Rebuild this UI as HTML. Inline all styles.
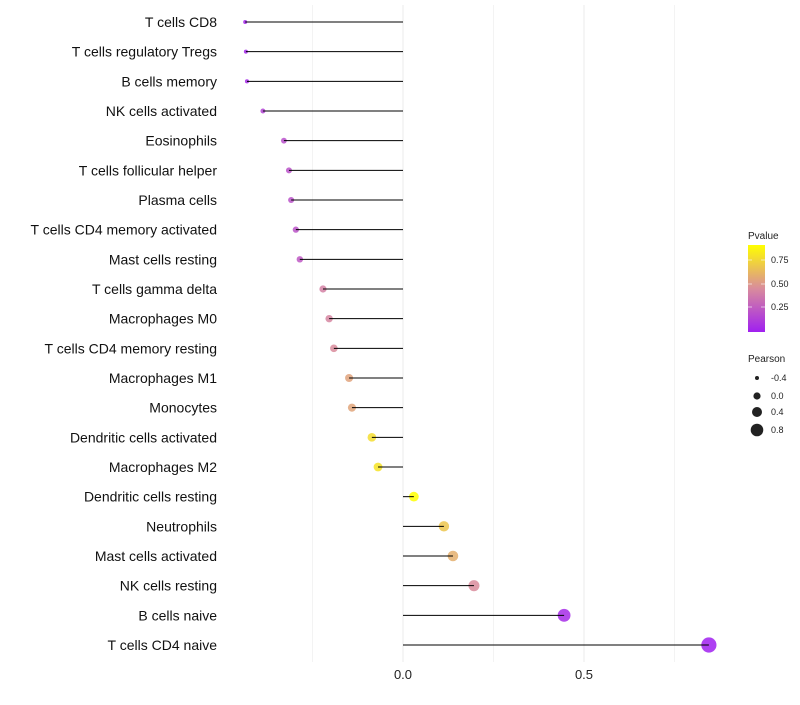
<!DOCTYPE html>
<html><head><meta charset="utf-8"><style>
body{margin:0;background:#fff;font-family:"Liberation Sans",sans-serif}
</style></head><body>
<svg id="chart" width="800" height="700" xmlns="http://www.w3.org/2000/svg">
<defs><linearGradient id="pg" x1="0" y1="1" x2="0" y2="0">
<stop offset="0" stop-color="#a020f0"/><stop offset="0.5" stop-color="#d98c9c"/><stop offset="1" stop-color="#ffff00"/>
</linearGradient></defs>
<g id="grid"></g><g id="dots"></g><g id="marks"></g><g id="labels"></g>
<g font-size="9" fill="#222">
<text x="748" y="239" font-size="10">Pvalue</text>
<rect x="748" y="245" width="17" height="87" fill="url(#pg)"/>
<line x1="748" x2="752" y1="260" y2="260" stroke="#fff" opacity="0.6"/><line x1="761" x2="765" y1="260" y2="260" stroke="#fff" opacity="0.6"/>
<line x1="748" x2="752" y1="284" y2="284" stroke="#fff" opacity="0.6"/><line x1="761" x2="765" y1="284" y2="284" stroke="#fff" opacity="0.6"/>
<line x1="748" x2="752" y1="307" y2="307" stroke="#fff" opacity="0.6"/><line x1="761" x2="765" y1="307" y2="307" stroke="#fff" opacity="0.6"/>
<text x="771" y="263">0.75</text><text x="771" y="287">0.50</text><text x="771" y="310">0.25</text>
</g>
<g font-size="9" fill="#222">
<text x="748" y="362" font-size="10">Pearson</text>
<circle cx="757" cy="378" r="2"/><text x="771" y="381">-0.4</text>
<circle cx="757" cy="396" r="3.6"/><text x="771" y="399">0.0</text>
<circle cx="757" cy="412" r="5"/><text x="771" y="415">0.4</text>
<circle cx="757" cy="430" r="6.3"/><text x="771" y="433">0.8</text>
</g>
</svg>
<script>
const categories=["T cells CD8","T cells regulatory  Tregs ","B cells memory","NK cells activated","Eosinophils","T cells follicular helper","Plasma cells","T cells CD4 memory activated","Mast cells resting","T cells gamma delta","Macrophages M0","T cells CD4 memory resting","Macrophages M1","Monocytes","Dendritic cells activated","Macrophages M2","Dendritic cells resting","Neutrophils","Mast cells activated","NK cells resting","B cells naive","T cells CD4 naive"];
const pearson=[-0.436,-0.434,-0.431,-0.387,-0.329,-0.315,-0.309,-0.296,-0.285,-0.221,-0.204,-0.191,-0.149,-0.141,-0.086,-0.069,0.030,0.113,0.138,0.196,0.445,0.845];
const pvalues=[0.03,0.03,0.04,0.16,0.22,0.23,0.23,0.24,0.26,0.45,0.47,0.5,0.6,0.61,0.85,0.88,1.0,0.75,0.65,0.5,0.05,0.002];
const xTicks=[0,0.5];
const xGrid=[-0.25,0,0.25,0.5,0.75];
const NS="http://www.w3.org/2000/svg";
const xs=v=>403+v*362;
const ys=i=>22+i*(623/21);
const rs=v=>Math.sqrt(4+42*(v+0.436));
function col(p){const a=[160,32,240],m=[217,140,156],b=[255,255,0];let c0,c1,t;if(p<0.5){c0=a;c1=m;t=p/0.5}else{c0=m;c1=b;t=(p-0.5)/0.5}return "rgb("+c0.map((c,k)=>Math.round(c+(c1[k]-c)*t)).join(",")+")";}
function mk(tag,at,parent){const e=document.createElementNS(NS,tag);for(const k in at)e.setAttribute(k,at[k]);document.getElementById(parent).appendChild(e);return e;}
xGrid.forEach(v=>{const l=mk("line",{x1:xs(v),x2:xs(v),y1:5,y2:662,stroke:"#ebebeb","stroke-width":v%0.5===0?1:0.6},"grid");

});
xTicks.forEach(v=>{const t=mk("text",{x:xs(v),y:679,"text-anchor":"middle","font-size":"13",fill:"#222"},"labels");t.textContent=v.toFixed(1);

});
categories.forEach((c,i)=>{const y=ys(i);
const t=mk("text",{x:217,y:y+5,"text-anchor":"end","font-size":"14",fill:"#111"},"labels");t.textContent=c;


const d=mk("circle",{cx:xs(pearson[i]),cy:y,r:rs(pearson[i]),fill:col(pvalues[i]),"fill-opacity":0.85},"dots");


const l=mk("line",{x1:xs(0),x2:xs(pearson[i]),y1:y,y2:y,stroke:"#000","stroke-width":1},"marks");

});
</script>
</body></html>
